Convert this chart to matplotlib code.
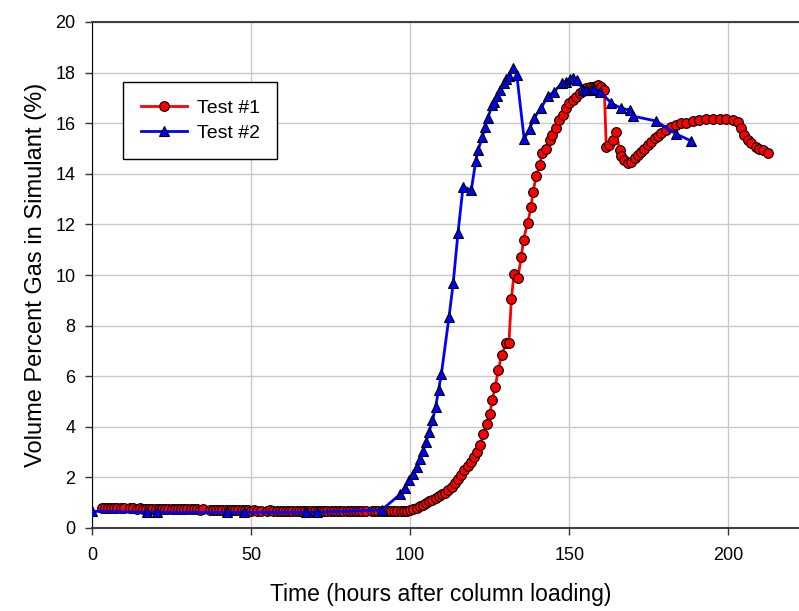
import matplotlib

matplotlib.use("Agg")
import matplotlib.pyplot as plt

plt.rcParams["font.family"] = ["Liberation Sans", "DejaVu Sans"]

# Test #1 (red circles): time in hours, volume percent gas
t1_hours = [
    3, 4, 5, 6, 7, 8, 9, 10, 12, 13, 14, 15, 16, 17, 18, 19, 20, 21, 22, 23,
    24, 25, 26, 27, 28, 29, 30, 31, 32, 33, 34, 35, 37, 38, 39, 40, 41, 42, 43, 44,
    45, 46, 47, 48, 49, 50, 51, 52, 53, 55, 56, 57, 58, 59, 60, 61, 62, 63, 64, 65,
    66, 67, 68, 69, 70, 71, 72, 73, 74, 75, 76, 77, 78, 79, 80, 81, 82, 83, 84, 85,
    86, 88, 89, 90, 91, 92, 93, 94, 95, 96, 97, 98, 99, 100, 101, 102, 103, 104, 105, 106,
    107, 108, 109, 110, 111, 112, 113, 114, 115, 116, 117, 118, 119, 120, 121, 122, 123, 124, 125, 125.8,
    126.7, 127.7, 128.7, 130.2, 131.0, 131.8, 132.6, 133.8, 134.9, 135.6, 136.9, 138.0, 138.6, 139.6, 140.7, 141.5,
    142.8, 143.8, 144.6, 145.9, 146.7, 147.9, 149.0, 150.0, 151.0, 152.2, 153.2, 154.2, 155.3, 156.4, 157.4, 158.3,
    159.0, 160.0, 161.0, 161.6, 162.6, 163.7, 164.7, 165.8, 166.3, 167.3, 168.4, 169.5, 170.5, 171.5, 172.6, 173.6,
    174.7, 175.7, 176.8, 177.8, 178.9, 180.4, 182.0, 183.6, 185.1, 186.7, 188.8, 190.9, 193.0, 195.1, 197.2, 199.3,
    201.4, 203.0, 204.0, 205.0, 206.1, 207.1, 208.7, 209.7, 210.8, 212.3,
]
t1_gas = [
    0.80, 0.80, 0.79, 0.80, 0.79, 0.80, 0.79, 0.79, 0.78, 0.78, 0.77, 0.78, 0.77, 0.76, 0.77, 0.76, 0.76, 0.76, 0.75, 0.76,
    0.75, 0.76, 0.75, 0.74, 0.75, 0.75, 0.74, 0.75, 0.74, 0.74, 0.73, 0.74, 0.72, 0.73, 0.72, 0.72, 0.71, 0.72, 0.71, 0.71,
    0.70, 0.71, 0.70, 0.70, 0.70, 0.69, 0.70, 0.69, 0.69, 0.69, 0.70, 0.69, 0.69, 0.68, 0.69, 0.68, 0.69, 0.68, 0.68, 0.67,
    0.68, 0.67, 0.68, 0.67, 0.68, 0.67, 0.68, 0.67, 0.68, 0.68, 0.69, 0.68, 0.69, 0.68, 0.69, 0.68, 0.69, 0.68, 0.68, 0.69,
    0.68, 0.67, 0.67, 0.66, 0.66, 0.66, 0.67, 0.66, 0.67, 0.66, 0.67, 0.68, 0.69, 0.70, 0.74, 0.80, 0.87, 0.92, 0.98, 1.05,
    1.12, 1.20, 1.27, 1.33, 1.40, 1.50, 1.63, 1.78, 1.93, 2.10, 2.28, 2.45, 2.60, 2.80, 3.00, 3.30, 3.70, 4.10, 4.50, 5.06,
    5.59, 6.24, 6.84, 7.31, 7.31, 9.05, 10.05, 9.88, 10.70, 11.40, 12.06, 12.70, 13.30, 13.90, 14.35, 14.83,
    15.00, 15.34, 15.54, 15.80, 16.13, 16.32, 16.59, 16.79, 16.92, 17.05, 17.18, 17.28, 17.38, 17.42, 17.45, 17.48,
    17.50, 17.45, 17.30, 15.07, 15.14, 15.34, 15.67, 14.94, 14.70, 14.55, 14.41, 14.48, 14.61, 14.74, 14.87, 15.00,
    15.14, 15.27, 15.40, 15.49, 15.60, 15.73, 15.86, 15.93, 16.00, 16.02, 16.09, 16.13, 16.15, 16.15, 16.15, 16.15,
    16.13, 16.06, 15.80, 15.54, 15.34, 15.20, 15.07, 15.00, 14.94, 14.83,
]

# Test #2 (blue triangles)
t2_hours = [
    0, 17.2, 20.5, 42.3, 47.8, 67.4, 70.8, 91.0, 96.8, 98.3, 99.7, 100.8, 102.0, 103.0, 104.0, 105.0,
    105.9, 107.0, 108.0, 108.9, 109.8, 112.2, 113.5, 115.0, 116.6, 119.2, 120.6, 121.3, 122.7, 123.4, 124.4, 125.8,
    126.2, 127.3, 128.3, 129.4, 130.2, 131.0, 132.4, 133.5, 135.8, 137.5, 139.0, 141.2, 143.3, 145.3, 147.7, 149.0,
    150.3, 151.3, 152.5, 154.3, 155.3, 156.9, 157.9, 159.7, 163.2, 166.3, 169.0, 170.0, 177.1, 183.6, 188.3,
]
t2_gas = [
    0.66, 0.62, 0.62, 0.62, 0.62, 0.62, 0.62, 0.71, 1.33, 1.60, 1.88, 2.13, 2.42, 2.72, 3.05, 3.40,
    3.80, 4.25, 4.80, 5.45, 6.10, 8.35, 9.67, 11.65, 13.49, 13.36, 14.52, 14.94, 15.44, 15.84, 16.22, 16.72,
    16.85, 17.08, 17.31, 17.60, 17.73, 17.87, 18.20, 17.90, 15.38, 15.78, 16.22, 16.62, 17.08, 17.25, 17.59, 17.64,
    17.73, 17.77, 17.72, 17.31, 17.31, 17.31, 17.34, 17.25, 16.79, 16.59, 16.52, 16.28, 16.09, 15.57, 15.30,
]

x_ticks = [0, 50, 100, 150, 200]
y_ticks = [0, 2, 4, 6, 8, 10, 12, 14, 16, 18, 20]

fig = plt.figure(figsize=(7.99, 6.11), dpi=100)
ax = fig.add_axes([92 / 799, 1 - 528 / 611, 716 / 799, 506 / 611])

ax.plot(t1_hours, t1_gas, color="#ff0000", lw=2, marker="o", ms=7,
        mfc="#ff0000", mec="black", mew=0.8, label="Test #1", zorder=3)
ax.plot(t2_hours, t2_gas, color="#0000ff", lw=2, marker="^", ms=7.5,
        mfc="#0000ff", mec="black", mew=0.8, label="Test #2", zorder=4)

ax.set_xlim(0, 225)
ax.set_ylim(0, 20)
ax.set_xticks(x_ticks)
ax.set_yticks(y_ticks)
ax.grid(True, color="#c8c8c8", lw=1.0, zorder=0)
ax.set_axisbelow(True)
ax.tick_params(direction="out", length=5, width=1, labelsize=13, colors="#333333",
               labelcolor="black")
ax.tick_params(axis="x", pad=9)
ax.tick_params(axis="y", pad=7)
ax.spines["right"].set_visible(False)
ax.spines["left"].set_color("black")
for side in ("top", "bottom"):
    ax.spines[side].set_color("#404040")
    ax.spines[side].set_linewidth(1.5)

ax.set_xlabel("Time (hours after column loading)", fontsize=16.5, labelpad=13)
ax.xaxis.set_label_coords(0.487, -0.108, transform=ax.transAxes)
ax.xaxis.label.set_va("top")
ax.set_ylabel("Volume Percent Gas in Simulant (%)", fontsize=17, labelpad=6)

leg = ax.legend(loc="upper left", bbox_to_anchor=(123 / 799, 1 - 82 / 611),
                bbox_transform=fig.transFigure, fontsize=14, fancybox=False,
                framealpha=1, edgecolor="black", handlelength=2.4,
                handletextpad=0.5, borderpad=0.9, labelspacing=0.35,
                borderaxespad=0)
leg.get_frame().set_linewidth(1.0)

fig.savefig("out.png", dpi=100)
